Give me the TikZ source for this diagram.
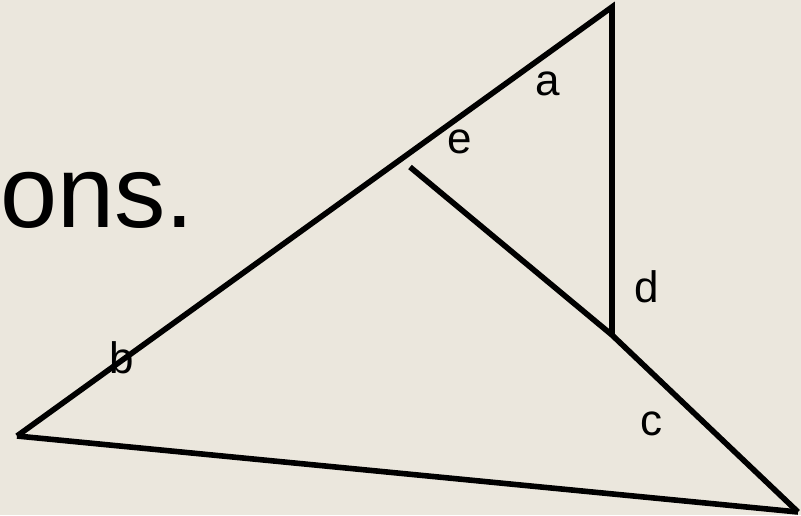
\documentclass[tikz,border=0pt]{standalone}
\usepackage{fontspec}
\setmainfont{Liberation Sans}
\usepackage{tikz}
\usetikzlibrary{positioning, calc, backgrounds}
\definecolor{bgbeige}{RGB}{235,231,221}

\begin{document}
\begin{tikzpicture}[
        x=0.75pt, y=-0.75pt,
        seg/.style={draw=black, line width=4.2pt, line cap=butt, line join=miter},
        letter/.style={anchor=base, inner sep=0pt, font=\fontsize{33}{33}\selectfont},
        bigtext/.style={anchor=base west, inner sep=0pt, font=\fontsize{77}{77}\selectfont}
    ]
        % Background
        \fill[bgbeige] (0,0) rectangle (801,515);
        \useasboundingbox (0,0) rectangle (801,515);

        % Corners
        \coordinate (left) at (17,436);
        \coordinate (apex) at (612,7);
        \coordinate (foot) at (612,335);
        \coordinate (inner) at (410,167);
        \coordinate (right) at (798,512);

        % Lines
        \draw[seg] (left) -- (apex) -- (foot);
        \draw[seg] (inner) -- (foot) -- (right);
        \draw[seg] (left) -- (right);

        % Text
        \node[bigtext] (title) at (0,227) {ons.};
        \node[letter] (la) at (548,95) {a};
        \node[letter] (le) at (460,153) {e};
        \node[letter] (ld) at (647,302) {d};
        \node[letter] (lb) at (122,373) {b};
        \node[letter] (lc) at (651,435) {c};
    \end{tikzpicture}
\end{document}
